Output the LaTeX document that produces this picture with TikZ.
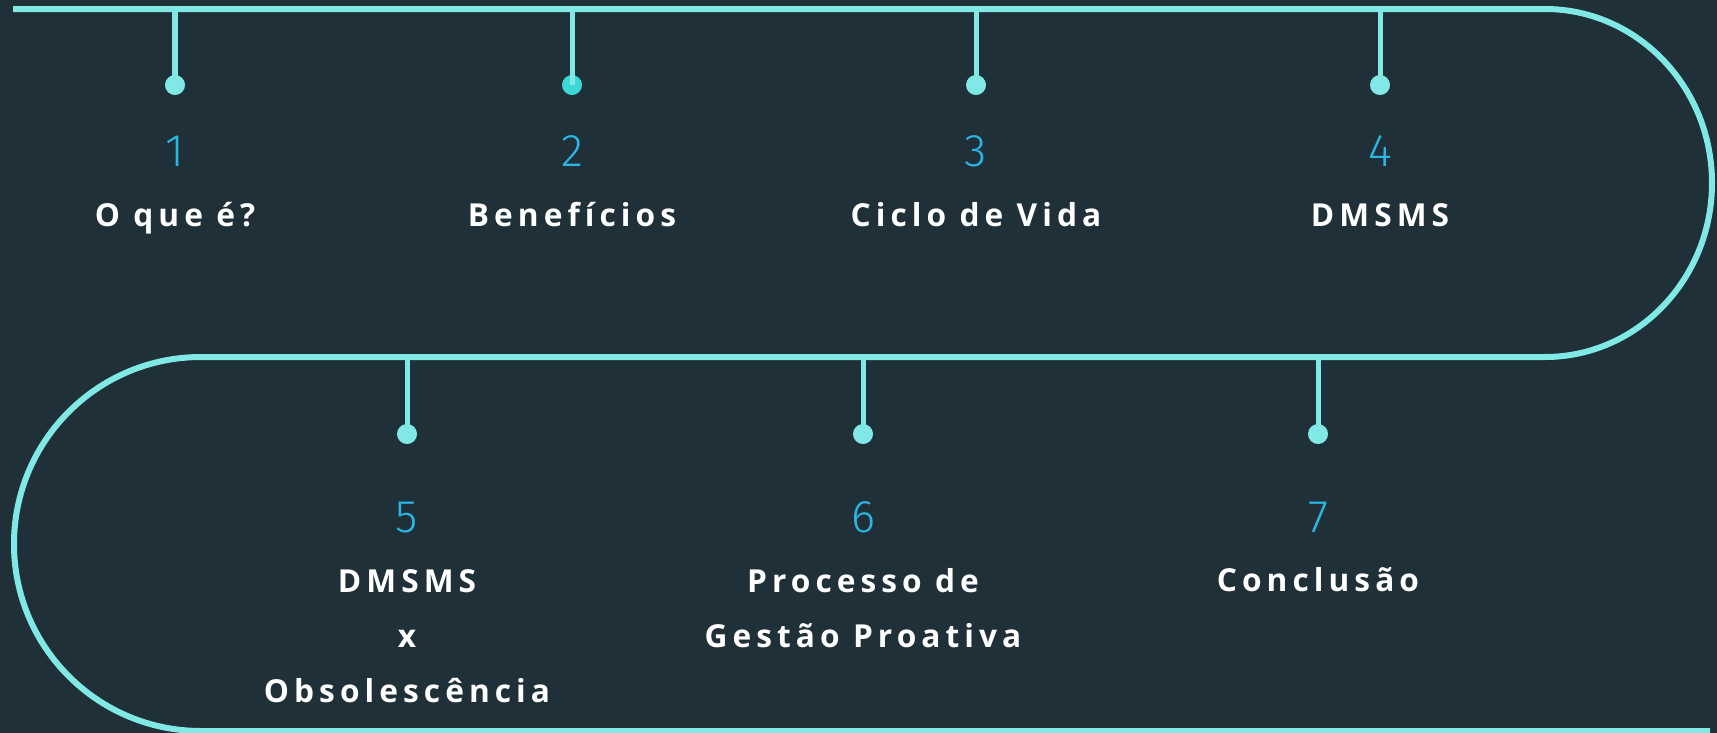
\documentclass[tikz,border=0pt]{standalone}
\usepackage{fontspec}
\setmainfont{Open Sans}
\newfontfamily\numFont{Fira Sans Light}
\newfontfamily\labelFont{Open Sans}[LetterSpace=16]
\usetikzlibrary{positioning}
\definecolor{bgColor}{HTML}{1F3038}
\definecolor{pathColor}{HTML}{80E9E5}
\definecolor{pathColorBis}{HTML}{3CD8D5}
\definecolor{numColor}{HTML}{2AB7E3}

\begin{document}
\begin{tikzpicture}[x=0.01cm,y=-0.01cm]

          \tikzstyle{dotNode} = [circle, fill=pathColor, inner sep=0pt, minimum size=0.2cm];
          \tikzstyle{dotNodeBis} = [circle, fill=pathColorBis, inner sep=0pt, minimum size=0.2cm];
          \tikzstyle{numNode} = [numColor, anchor=base, font=\numFont\fontsize{13}{15}\selectfont];
          \tikzstyle{labelNode} = [white, anchor=base, align=center, font=\labelFont\bfseries\fontsize{9}{15.6}\selectfont];

          \tikzstyle{pathEdge} = [line width=0.6mm, pathColor];
          \tikzstyle{stemEdge} = [line width=0.5mm, pathColor];

          \useasboundingbox (0,0) rectangle (1717,733);
          \fill[bgColor] (0,0) rectangle (1717,733);

          % the winding road
          \coordinate (start) at (13,9);
          \coordinate (turnA) at (1545,9);
          \coordinate (turnB) at (201,357);
          \coordinate (stop) at (1710,731);
          \draw[pathEdge] (start) -- (turnA) arc[start angle=90, end angle=-90, x radius=167, y radius=-174]
            -- (turnB) arc[start angle=90, end angle=270, x radius=187, y radius=-187] -- (stop);

          \coordinate (t1) at (175,9);
          \coordinate (t2) at (572,9);
          \coordinate (t3) at (976,9);
          \coordinate (t4) at (1380,9);
          \coordinate (t5) at (407,357);
          \coordinate (t6) at (863,357);
          \coordinate (t7) at (1318,357);

          \node[dotNode] (d1) at (175,85) {};
          \node[dotNodeBis] (d2) at (572,85) {};
          \node[dotNode] (d3) at (976,85) {};
          \node[dotNode] (d4) at (1380,85) {};
          \node[dotNode] (d5) at (407,434) {};
          \node[dotNode] (d6) at (863,434) {};
          \node[dotNode] (d7) at (1318,434) {};

          \node[numNode] (n1) at (175,166) {1};
          \node[numNode] (n2) at (572,166) {2};
          \node[numNode] (n3) at (976,166) {3};
          \node[numNode] (n4) at (1380,166) {4};
          \node[numNode] (n5) at (407,532) {5};
          \node[numNode] (n6) at (863,532) {6};
          \node[numNode] (n7) at (1318,532) {7};

          % multi-line labels sit on the baseline of their last line
          \node[labelNode] (l1) at (175,226) {O que é?};
          \node[labelNode] (l2) at (572,226) {Benefícios};
          \node[labelNode] (l3) at (976,226) {Ciclo de Vida};
          \node[labelNode] (l4) at (1380,226) {DMSMS};
          \node[labelNode] (l5) at (407,702) {DMSMS\\x\\Obsolescência};
          \node[labelNode] (l6) at (863,647) {Processo de\\Gestão Proativa};
          \node[labelNode] (l7) at (1318,591) {Conclusão};

          \draw[stemEdge] (t1) -- (d1.center);
          \draw[stemEdge] (t2) -- (d2.center);
          \draw[stemEdge] (t3) -- (d3.center);
          \draw[stemEdge] (t4) -- (d4.center);
          \draw[stemEdge] (t5) -- (d5.center);
          \draw[stemEdge] (t6) -- (d6.center);
          \draw[stemEdge] (t7) -- (d7.center);
        \end{tikzpicture}
\end{document}
